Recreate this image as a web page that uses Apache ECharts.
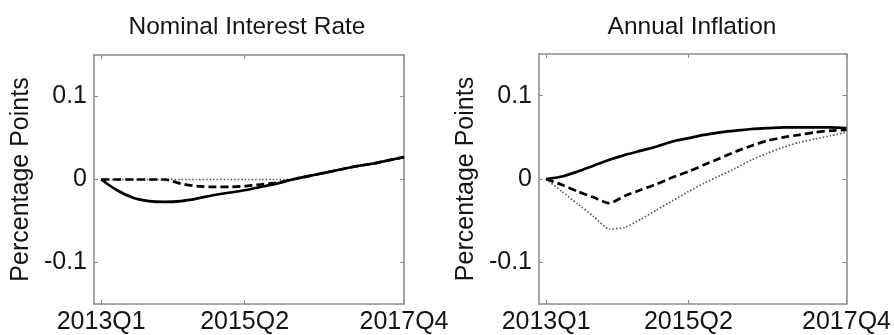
<!DOCTYPE html>
<html>
<head>
<meta charset="utf-8">
<script src="https://cdn.jsdelivr.net/npm/echarts@6/dist/echarts.min.js"></script>
<style>
html,body{margin:0;padding:0;background:#fff;}
#c{width:894px;height:335px;}
</style>
</head>
<body>
<div id="c"></div>
<script>
// Quarters 2013Q1 .. 2017Q4 (index 0..19)
var quarters = ['2013Q1','2013Q2','2013Q3','2013Q4','2014Q1','2014Q2','2014Q3','2014Q4',
  '2015Q1','2015Q2','2015Q3','2015Q4','2016Q1','2016Q2','2016Q3','2016Q4',
  '2017Q1','2017Q2','2017Q3','2017Q4'];
var xTickLabels = ['2013Q1','2015Q2','2017Q4'];
var yTickValues = [-0.1, 0, 0.1];
var titles = ['Nominal Interest Rate','Annual Inflation'];
var yName = 'Percentage Points';

// Nominal Interest Rate
var rateSolid  = [0,-0.013,-0.022,-0.026,-0.027,-0.026,-0.023,-0.019,-0.016,-0.013,-0.009,-0.005,0.000,0.004,0.008,0.012,0.016,0.019,0.023,0.027];
var rateDashed = [0,0,0,0,0,-0.005,-0.008,-0.009,-0.009,-0.008,-0.006,-0.004,0.000,0.004,0.008,0.012,0.016,0.019,0.023,0.027];
var rateDotted = [0,0,0,0,0,0,0,0,0,0,0,0,0,0.004,0.008,0.012,0.016,0.019,0.023,0.027];

// Annual Inflation
var inflSolid  = [0,0.003,0.009,0.016,0.023,0.029,0.034,0.039,0.045,0.049,0.053,0.056,0.058,0.060,0.061,0.062,0.062,0.062,0.062,0.061];
var inflDashed = [0,-0.007,-0.015,-0.022,-0.029,-0.020,-0.013,-0.006,0.002,0.009,0.017,0.025,0.033,0.040,0.046,0.050,0.053,0.056,0.058,0.059];
var inflDotted = [0,-0.015,-0.030,-0.045,-0.060,-0.058,-0.048,-0.037,-0.026,-0.015,-0.005,0.004,0.013,0.023,0.031,0.038,0.044,0.048,0.052,0.056];

var FONT = 'Liberation Sans, Arial, sans-serif';
var AXC = '#8a8a8a';
var TXT = '#151515';

function pts(arr){ return arr.map(function(v,i){ return [i, v]; }); }
function labelIdx(lbl){ return quarters.indexOf(lbl); }
var xTickIdx = xTickLabels.map(labelIdx);

var grids = [
  {left:94, right:490, top:55, bottom:30},
  {left:539, right:46, top:54, bottom:30}
];

var xAxes = [], yAxes = [], series = [], titleArr = [];
var titleX = [242, 687];
var sets = [[rateSolid, rateDashed, rateDotted],[inflSolid, inflDashed, inflDotted]];

for (var g=0; g<2; g++){
  titleArr.push({text:titles[g], left:titleX[g], top:10, textAlign:'center',
    textStyle:{fontFamily:FONT, fontSize:24.5, fontWeight:'normal', color:TXT}});
  // bottom x
  xAxes.push({type:'value', gridIndex:g, position:'bottom', min:-0.45, max:19,
    axisLine:{show:true, onZero:false, lineStyle:{color:AXC, width:1.5}},
    axisTick:{show:true, inside:true, length:4, customValues:xTickIdx, lineStyle:{color:AXC}},
    axisLabel:{show:true, customValues:xTickIdx, margin:6, fontFamily:FONT, fontSize:25, color:TXT,
      formatter:function(v){ return quarters[Math.round(v)]; }},
    splitLine:{show:false}});
  // top x
  xAxes.push({type:'value', gridIndex:g, position:'top', min:-0.45, max:19,
    axisLine:{show:true, onZero:false, lineStyle:{color:AXC, width:1.5}},
    axisTick:{show:true, inside:true, length:4, customValues:xTickIdx, lineStyle:{color:AXC}},
    axisLabel:{show:false}, splitLine:{show:false}});
  // left y
  yAxes.push({type:'value', gridIndex:g, position:'left', min:-0.15, max:0.15,
    name:yName, nameLocation:'middle', nameGap:60, nameRotate:90,
    nameTextStyle:{fontFamily:FONT, fontSize:25, color:TXT},
    axisLine:{show:true, onZero:false, lineStyle:{color:AXC, width:1.5}},
    axisTick:{show:true, inside:true, length:4, customValues:yTickValues, lineStyle:{color:AXC}},
    axisLabel:{show:true, customValues:yTickValues, margin:7, fontFamily:FONT, fontSize:25, color:TXT,
      formatter:function(v){ return Math.abs(v)<1e-9 ? '0' : String(Math.round(v*10)/10); }},
    splitLine:{show:false}});
  // right y
  yAxes.push({type:'value', gridIndex:g, position:'right', min:-0.15, max:0.15,
    axisLine:{show:true, onZero:false, lineStyle:{color:AXC, width:1.5}},
    axisTick:{show:true, inside:true, length:4, customValues:yTickValues, lineStyle:{color:AXC}},
    axisLabel:{show:false}, splitLine:{show:false}});

  var s = sets[g];
  var xi = g*2, yi = g*2;
  series.push({type:'line', xAxisIndex:xi, yAxisIndex:yi, data:pts(s[2]), showSymbol:false, smooth:0.2,
    lineStyle:{color:'#555', width:1.7, type:[1.5,2]}, z:2});
  series.push({type:'line', xAxisIndex:xi, yAxisIndex:yi, data:pts(s[1]), showSymbol:false, smooth:0.2,
    lineStyle:{color:'#000', width:2.7, type:[8,4]}, z:3});
  series.push({type:'line', xAxisIndex:xi, yAxisIndex:yi, data:pts(s[0]), showSymbol:false, smooth:0.3,
    lineStyle:{color:'#000', width:2.7}, z:4});
}

var chart = echarts.init(document.getElementById('c'), null, {renderer:'canvas'});
chart.setOption({
  animation:false,
  backgroundColor:'#fff',
  title:titleArr,
  grid:grids,
  xAxis:xAxes,
  yAxis:yAxes,
  series:series
});
</script>
</body>
</html>
